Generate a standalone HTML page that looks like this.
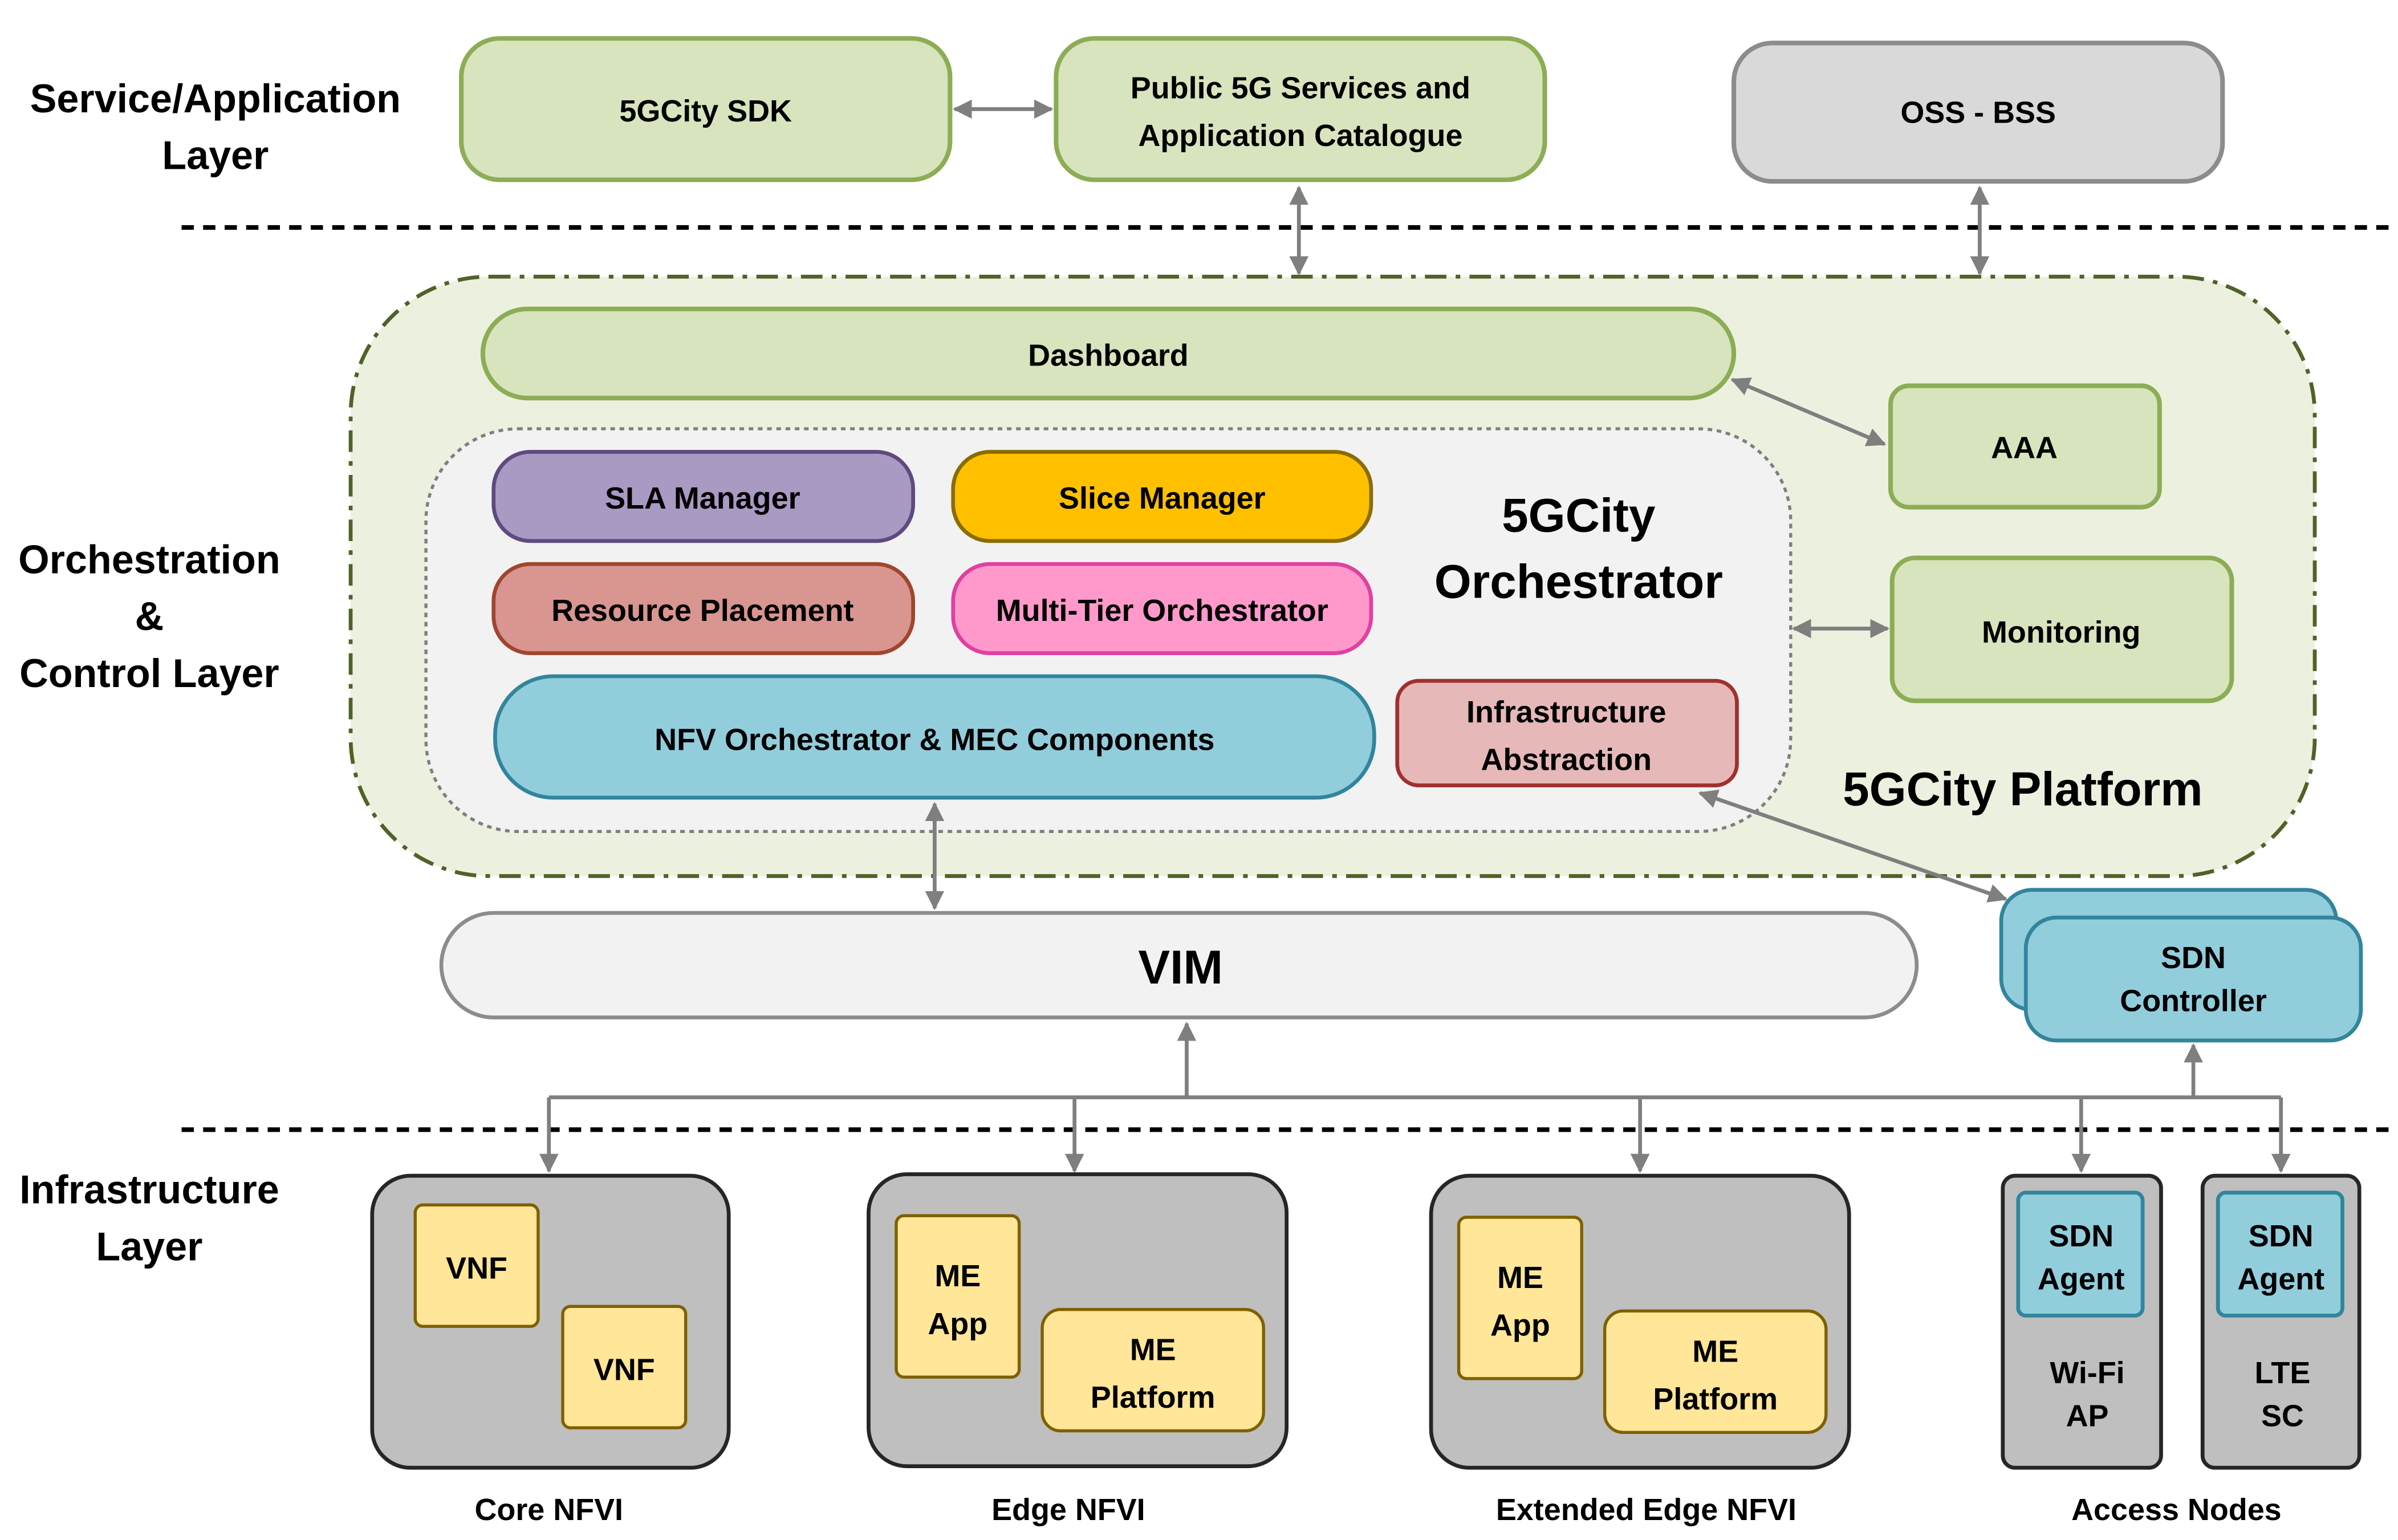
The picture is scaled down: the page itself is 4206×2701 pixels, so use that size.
<!DOCTYPE html>
<html><head><meta charset="utf-8"><style>html,body{margin:0;padding:0;background:#fff}svg{display:block}</style></head>
<body>
<svg xmlns="http://www.w3.org/2000/svg" width="4206" height="2701" viewBox="0 0 1560 1002" font-family="Liberation Sans, sans-serif" font-weight="bold">
<defs>
<marker id="a" viewBox="0 0 10 10" refX="9" refY="5" markerWidth="5" markerHeight="5" orient="auto-start-reverse"><path d="M0,0 L10,5 L0,10 z" fill="#7f7f7f"/></marker>
</defs>
<rect width="1560" height="1002" fill="#fff"/>
<g font-size="26" text-anchor="middle" fill="#000">
<text x="140" y="73">Service/Application</text><text x="140" y="110">Layer</text>
<text x="97" y="373">Orchestration</text><text x="97" y="410">&amp;</text><text x="97" y="447">Control Layer</text>
<text x="97" y="783">Infrastructure</text><text x="97" y="820">Layer</text>
</g>
<g stroke-width="3">
<rect x="300" y="25" width="318" height="92" rx="25" fill="#d7e4bd" stroke="#8cad55"/>
<rect x="687" y="25" width="318" height="92" rx="25" fill="#d7e4bd" stroke="#8cad55"/>
<rect x="1128" y="28" width="318" height="90" rx="25" fill="#d9d9d9" stroke="#8c8c8c"/>
</g>
<g font-size="20" text-anchor="middle">
<text x="459" y="79">5GCity SDK</text>
<text x="846" y="64">Public 5G Services and</text><text x="846" y="95">Application Catalogue</text>
<text x="1287" y="80">OSS - BSS</text>
</g>
<line x1="118" y1="148" x2="1555" y2="148" stroke="#000" stroke-width="3" stroke-dasharray="8 6"/>
<line x1="118" y1="735" x2="1555" y2="735" stroke="#000" stroke-width="3" stroke-dasharray="8 6"/>
<rect x="228" y="180" width="1278" height="390" rx="90" fill="#ebf1de" stroke="#4f6228" stroke-width="2.5" stroke-dasharray="14 6 3 6"/>
<g stroke-width="3" fill="#d7e4bd" stroke="#8cad55">
<rect x="314" y="201" width="814" height="58" rx="29"/>
<rect x="1230" y="251" width="175" height="79" rx="12"/>
<rect x="1231" y="363" width="221" height="93" rx="15"/>
</g>
<rect x="277" y="279" width="888" height="262" rx="60" fill="#f2f2f2" stroke="#7f7f7f" stroke-width="2" stroke-dasharray="3 3"/>
<g stroke-width="2.5">
<rect x="321" y="294" width="273" height="58" rx="24" fill="#a99ac3" stroke="#5f4a80"/>
<rect x="620" y="294" width="272" height="58" rx="24" fill="#ffc000" stroke="#8a6d00"/>
<rect x="321" y="367" width="273" height="58" rx="24" fill="#d99590" stroke="#a0462e"/>
<rect x="620" y="367" width="272" height="58" rx="24" fill="#ff99cc" stroke="#e040a0"/>
<rect x="322" y="440" width="572" height="79" rx="38" fill="#92cddc" stroke="#31859c"/>
<rect x="909" y="443" width="221" height="68" rx="14" fill="#e6b9b8" stroke="#a0302e"/>
<rect x="287" y="594" width="960" height="68" rx="34" fill="#f2f2f2" stroke="#8c8c8c"/>
<rect x="1302" y="579" width="218" height="78" rx="20" fill="#92cddc" stroke="#31859c"/>
<rect x="1318" y="597" width="218" height="80" rx="20" fill="#92cddc" stroke="#31859c"/>
</g>
<g font-size="20" text-anchor="middle">
<text x="721" y="238">Dashboard</text>
<text x="1317" y="298">AAA</text>
<text x="1341" y="418">Monitoring</text>
<text x="457" y="331">SLA Manager</text>
<text x="756" y="331">Slice Manager</text>
<text x="457" y="404">Resource Placement</text>
<text x="756" y="404">Multi-Tier Orchestrator</text>
<text x="608" y="488">NFV Orchestrator &amp; MEC Components</text>
<text x="1019" y="470">Infrastructure</text><text x="1019" y="501">Abstraction</text>
<text x="1427" y="630">SDN</text><text x="1427" y="658">Controller</text>
</g>
<g font-size="31" text-anchor="middle">
<text x="1027" y="346">5GCity</text><text x="1027" y="389">Orchestrator</text>
<text x="1316" y="524">5GCity Platform</text>
<text x="768" y="640">VIM</text>
</g>
<g stroke="#7f7f7f" stroke-width="2.5" fill="none" marker-end="url(#a)" marker-start="url(#a)">
<line x1="621" y1="71" x2="684" y2="71"/>
<line x1="845" y1="122" x2="845" y2="178"/>
<line x1="1288" y1="122" x2="1288" y2="178"/>
<line x1="1127" y1="247" x2="1226" y2="289"/>
<line x1="1167" y1="409" x2="1228" y2="409"/>
<line x1="608" y1="523" x2="608" y2="591"/>
<line x1="1106" y1="516" x2="1305" y2="585"/>
</g>
<g stroke="#7f7f7f" stroke-width="2.5" fill="none">
<line x1="357" y1="714" x2="1484" y2="714"/>
<line x1="772" y1="714" x2="772" y2="666" marker-end="url(#a)"/>
<line x1="1427" y1="714" x2="1427" y2="680" marker-end="url(#a)"/>
<line x1="357" y1="714" x2="357" y2="762" marker-end="url(#a)"/>
<line x1="699" y1="714" x2="699" y2="762" marker-end="url(#a)"/>
<line x1="1067" y1="714" x2="1067" y2="762" marker-end="url(#a)"/>
<line x1="1354" y1="714" x2="1354" y2="762" marker-end="url(#a)"/>
<line x1="1484" y1="714" x2="1484" y2="762" marker-end="url(#a)"/>
</g>
<g fill="#bfbfbf" stroke="#262626" stroke-width="2.5">
<rect x="242" y="765" width="232" height="190" rx="25"/>
<rect x="565" y="764" width="272" height="190" rx="25"/>
<rect x="931" y="765" width="272" height="190" rx="25"/>
<rect x="1303" y="765" width="103" height="190" rx="8"/>
<rect x="1433" y="765" width="102" height="190" rx="8"/>
</g>
<g fill="#ffe699" stroke="#7f6000" stroke-width="2">
<rect x="270" y="784" width="80" height="79" rx="5"/>
<rect x="366" y="850" width="80" height="79" rx="5"/>
<rect x="583" y="791" width="80" height="105" rx="5"/>
<rect x="678" y="852" width="144" height="79" rx="12"/>
<rect x="949" y="792" width="80" height="105" rx="5"/>
<rect x="1044" y="853" width="144" height="79" rx="12"/>
</g>
<g fill="#92cddc" stroke="#31859c" stroke-width="2.5">
<rect x="1313" y="776" width="81" height="80" rx="5"/>
<rect x="1443" y="776" width="81" height="80" rx="5"/>
</g>
<g font-size="20" text-anchor="middle">
<text x="310" y="832">VNF</text><text x="406" y="898">VNF</text>
<text x="623" y="837">ME</text><text x="623" y="868">App</text>
<text x="750" y="885">ME</text><text x="750" y="916">Platform</text>
<text x="989" y="838">ME</text><text x="989" y="869">App</text>
<text x="1116" y="886">ME</text><text x="1116" y="917">Platform</text>
<text x="1354" y="811">SDN</text><text x="1354" y="839">Agent</text>
<text x="1484" y="811">SDN</text><text x="1484" y="839">Agent</text>
<text x="1358" y="900">Wi-Fi</text><text x="1358" y="928">AP</text>
<text x="1485" y="900">LTE</text><text x="1485" y="928">SC</text>
<text x="357" y="989">Core NFVI</text>
<text x="695" y="989">Edge NFVI</text>
<text x="1071" y="989">Extended Edge NFVI</text>
<text x="1416" y="989">Access Nodes</text>
</g>
</svg>
</body></html>
